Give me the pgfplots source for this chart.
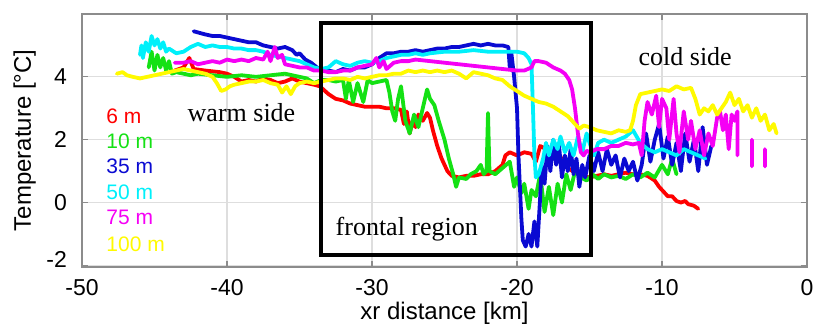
\documentclass[border=0pt]{standalone}
\usepackage{pgfplots}
\pgfplotsset{compat=1.18}
\usepackage{fontspec}
\setmainfont{Liberation Sans}
\newfontfamily\serifann{Liberation Serif}
\definecolor{cRed}{RGB}{255,0,0}
\definecolor{cGreen}{RGB}{20,225,20}
\definecolor{cBlue}{RGB}{10,10,210}
\definecolor{cCyan}{RGB}{0,240,250}
\definecolor{cMag}{RGB}{245,0,245}
\definecolor{cYel}{RGB}{255,250,0}
\definecolor{gridc}{RGB}{222,222,222}
\definecolor{axc}{RGB}{140,140,140}
\begin{document}
\begin{tikzpicture}
\begin{axis}[
  scale only axis, width=362.5pt, height=126.5pt,
  xmin=-50, xmax=0, ymin=-2.05, ymax=6,
  xtick={-50,-40,-30,-20,-10,0}, ytick={-2,0,2,4},
  grid=major, major grid style={gridc, line width=0.6pt},
  axis line style={axc, line width=0.6pt},
  tick style={axc, line width=0.6pt}, tick align=inside,
  major tick length=3pt,
  tick label style={font=\fontsize{11.5}{12}\selectfont},
  label style={font=\fontsize{12}{13}\selectfont},
  /pgf/number format/assume math mode=true,
  xticklabel shift=2.5pt, yticklabel shift=4pt,
  yticklabel={\ifdim\tick pt<-1pt \raisebox{6pt}{\pgfmathprintnumber{\tick}}\else\pgfmathprintnumber{\tick}\fi},
  xlabel={xr distance [km]}, ylabel={Temperature [°C]},
  xlabel style={yshift=3.5pt}, ylabel style={yshift=-1.5pt},
  unbounded coords=jump, clip=true,
  every axis plot/.append style={line width=1.9pt, line join=round, line cap=round},
]
% 6 m
\addplot[cRed] coordinates {(-43.6,4.2) (-43.0,4.3) (-42.6,4.6) (-42.3,4.25) (-41.5,4.2) (-40.5,4.15) (-40,4.1) (-39.5,4.0) (-39,3.85) (-38.5,3.9) (-38,3.85) (-37.5,3.95) (-37,3.9) (-36.5,3.8) (-36,3.85) (-35.5,3.95) (-35,3.85) (-34.5,3.8) (-34,3.75) (-33.6,3.7) (-33,3.45) (-32.5,3.3) (-32,3.25) (-31.5,3.15) (-31,3.1) (-30.5,3.05) (-30,3.05) (-29.5,3.05) (-29,3.0) (-28.5,3.0) (-28,2.95) (-27.8,2.5) (-27.6,2.9) (-27.4,2.2) (-27.2,2.6) (-27,2.4) (-26.8,2.8) (-26.5,2.6) (-26.2,2.85) (-26,2.7) (-25.8,2.3) (-25.5,1.8) (-25.2,1.4) (-25,1.2) (-24.8,1.0) (-24.5,0.85) (-24,0.8) (-23.5,0.85) (-23,0.85) (-22.5,0.9) (-22,0.9) (-21.5,1.0) (-21,1.2) (-20.8,1.5) (-20.5,1.6) (-20,1.5) (-19.5,1.6) (-19,1.55) (-18.7,1.3) (-18.4,1.8) (-18,1.7) (-17.5,1.4) (-17,1.45) (-16.5,1.1) (-16,0.95) (-15.5,0.85) (-15,0.8) (-14.5,0.85) (-14,0.9) (-13.5,0.85) (-13,0.9) (-12.5,0.95) (-12,0.9) (-11.5,0.9) (-11,0.85) (-10.5,0.7) (-10.2,0.5) (-10,0.4) (-9.6,0.2) (-9.3,0.2) (-9,0.05) (-8.7,0.0) (-8.4,0.05) (-8.2,-0.05) (-7.8,-0.1) (-7.5,-0.2)};
% 10 m
\addplot[cGreen] coordinates {(-45.4,4.3) (-45.2,4.8) (-45.0,4.2) (-44.8,4.7) (-44.6,4.3) (-44.4,4.6) (-44.2,4.2) (-44.0,4.5) (-43.8,4.1) (-43.5,4.15) (-43,4.1) (-42.5,4.05) (-42,4.1) (-41,4.05) (-40,4.0) (-39,4.05) (-38,4.0) (-37,4.05) (-36,4.1) (-35,4.0) (-34.5,3.95) (-34,3.8) (-33.5,3.9) (-33,3.9) (-32.5,3.85) (-32,3.9) (-31.8,3.3) (-31.6,3.9) (-31.3,3.2) (-31,3.8) (-30.6,3.2) (-30.3,3.9) (-30,3.8) (-29.5,3.85) (-29,3.9) (-28.8,3.5) (-28.6,2.9) (-28.4,2.6) (-28.2,3.3) (-28.0,3.7) (-27.7,2.6) (-27.4,2.2) (-27.1,2.8) (-26.8,2.4) (-26.5,3.0) (-26.2,3.6) (-26,3.3) (-25.7,3.1) (-25.4,2.6) (-25.0,2.0) (-24.7,1.4) (-24.4,0.9) (-24.2,0.5) (-24.0,0.8) (-23.5,0.75) (-23.2,0.9) (-22.8,1.0) (-22.5,1.2) (-22.3,0.9) (-22.1,1.0) (-22.0,2.85) (-21.9,1.0) (-21.5,0.9) (-21,1.1) (-20.5,1.3) (-20.2,0.5) (-20,0.8) (-19.7,0.3) (-19.5,0.6) (-19.2,-0.2) (-19,0.4) (-18.7,0.2) (-18.4,0.9) (-18.1,-0.3) (-17.8,0.5) (-17.5,-0.4) (-17.2,0.6) (-16.9,0.0) (-16.6,0.9) (-16.3,0.4) (-16,1.0) (-15.6,0.8) (-15.2,0.7) (-14.8,0.9) (-14.4,0.75) (-14,0.9) (-13.5,0.8) (-13,0.85) (-12.5,0.75) (-12,0.9) (-11.5,0.8) (-11,0.95) (-10.5,0.8) (-10,1.2) (-9.6,0.9) (-9.3,1.4) (-9,0.9)};
% 35 m
\addplot[cBlue] coordinates {(-42.3,5.45) (-41.5,5.35) (-41,5.3) (-40.5,5.3) (-40,5.25) (-39.5,5.2) (-39,5.15) (-38.5,5.1) (-38,5.1) (-37.5,5.0) (-37,4.95) (-36.5,4.9) (-36,4.95) (-35.5,4.85) (-35.2,4.7) (-35,4.75) (-34.6,4.55) (-34.2,4.45) (-33.8,4.3) (-33.4,4.2) (-33,4.2) (-32.5,4.15) (-32,4.25) (-31.5,4.2) (-31,4.3) (-30.5,4.3) (-30,4.4) (-29.5,4.6) (-29,4.75) (-28.5,4.75) (-28,4.8) (-27.5,4.8) (-27,4.85) (-26.5,4.8) (-26,4.85) (-25.5,4.9) (-25,4.9) (-24.5,4.95) (-24,4.95) (-23.5,5.0) (-23,5.05) (-22.5,5.0) (-22,5.05) (-21.5,5.0) (-21,5.0) (-20.6,4.95) (-20.5,4.3) (-20.4,4.8) (-20.2,4.0) (-20.0,3.0) (-19.9,1.5) (-19.8,0.5) (-19.7,-0.5) (-19.6,-1.2) (-19.4,-1.4) (-19.2,-1.0) (-19,-1.4) (-18.8,-0.6) (-18.6,-1.4) (-18.4,0.2) (-18.3,1.2) (-18.1,0.6) (-17.9,1.8) (-17.7,1.0) (-17.5,2.0) (-17.3,1.2) (-17.1,1.8) (-16.9,0.8) (-16.7,1.5) (-16.5,1.0) (-16.3,1.7) (-16.1,0.9) (-15.9,1.4) (-15.7,0.5) (-15.5,1.2) (-15.3,0.8) (-15,1.5) (-14.7,1.0) (-14.4,1.6) (-14.1,1.0) (-13.8,1.7) (-13.5,1.2) (-13.2,1.5) (-12.9,0.8) (-12.6,1.4) (-12.3,1.0) (-12,1.3) (-11.7,0.7) (-11.4,1.2) (-11.1,2.2) (-10.8,1.3) (-10.5,2.0) (-10.2,2.5) (-9.9,1.4) (-9.6,2.1) (-9.3,1.2) (-9,1.9) (-8.7,1.0) (-8.4,2.2) (-8.1,1.3) (-7.8,2.0) (-7.5,1.0) (-7.2,2.4) (-6.9,1.2) (-6.6,1.8)};
% 50 m
\addplot[cCyan] coordinates {(-46.0,4.7) (-45.9,5.0) (-45.8,4.6) (-45.6,5.1) (-45.4,4.8) (-45.2,5.3) (-45.0,5.0) (-44.8,5.2) (-44.6,4.9) (-44.4,5.1) (-44.2,4.8) (-44,4.9) (-43.5,4.75) (-43,4.8) (-42.5,4.95) (-42,5.05) (-41.5,4.95) (-41,5.0) (-40.5,4.95) (-40,4.95) (-39.5,4.9) (-39,4.9) (-38.5,4.85) (-38,4.85) (-37.5,4.8) (-37,4.7) (-36.5,4.65) (-36,4.6) (-35.5,4.55) (-35,4.5) (-34.5,4.4) (-34,4.3) (-33.5,4.25) (-33,4.3) (-32.5,4.5) (-32,4.4) (-31.5,4.35) (-31,4.45) (-30.5,4.5) (-30,4.45) (-29.5,4.5) (-29,4.6) (-28.5,4.65) (-28,4.7) (-27.5,4.7) (-27,4.75) (-26.5,4.7) (-26,4.75) (-25,4.8) (-24,4.8) (-23,4.85) (-22,4.8) (-21,4.8) (-20,4.8) (-19.5,4.75) (-19.2,4.6) (-19.0,4.4) (-18.9,3.0) (-18.8,1.5) (-18.7,0.8) (-18.5,0.9) (-18.2,1.4) (-18,1.9) (-17.8,1.5) (-17.5,2.0) (-17.2,1.7) (-17,2.1) (-16.7,1.6) (-16.4,1.9) (-16.1,1.5) (-15.8,2.1) (-15.5,1.6) (-15.2,2.2) (-15,1.9) (-14.7,1.5) (-14.4,1.9) (-14,2.0) (-13.5,1.9) (-13,2.0) (-12.5,2.1) (-12,2.3) (-11.5,1.9) (-11,1.7) (-10.5,1.6) (-10,1.7) (-9.5,1.6) (-9,1.5) (-8.5,1.7) (-8,1.6) (-7.5,1.5) (-7.0,1.4)};
% 75 m
\addplot[cMag] coordinates {(-43.6,4.45) (-43,4.45) (-42.5,4.5) (-42,4.4) (-41.5,4.45) (-41,4.5) (-40.5,4.45) (-40,4.55) (-39.5,4.5) (-39,4.55) (-38.5,4.5) (-38,4.6) (-37.5,4.55) (-37.2,4.8) (-37,4.5) (-36.7,4.95) (-36.5,4.6) (-36.2,4.7) (-36,4.4) (-35.5,4.35) (-35,4.3) (-34.5,4.3) (-34,4.2) (-33.5,4.2) (-33,4.15) (-32.5,4.15) (-32,4.2) (-31.5,4.2) (-31,4.3) (-30.5,4.35) (-30,4.4) (-29.7,4.6) (-29.5,4.3) (-29.2,4.5) (-29,4.25) (-28.5,4.45) (-28,4.5) (-27.5,4.5) (-27,4.55) (-26,4.5) (-25,4.45) (-24,4.4) (-23,4.35) (-22,4.3) (-21,4.25) (-20,4.2) (-19.5,4.2) (-19.0,4.3) (-18.8,4.5) (-18.5,4.5) (-18,4.45) (-17.5,4.3) (-17,4.2) (-16.7,4.1) (-16.4,3.9) (-16.2,3.6) (-16.0,3.0) (-15.8,2.2) (-15.6,1.6) (-15.4,1.5) (-15.2,1.65) (-15,1.6) (-14.5,1.7) (-14,1.7) (-13.5,1.8) (-13,1.8) (-12.5,1.9) (-12,1.85) (-11.6,1.9) (-11.4,1.5) (-11.2,2.6) (-11,3.2) (-10.7,2.8) (-10.4,3.4) (-10.2,2.4) (-10,3.3) (-9.7,3.0) (-9.5,2.0) (-9.2,3.3) (-9,2.2) (-8.8,1.6) (-8.5,2.9) (-8.2,2.0) (-8,2.6) (-7.7,1.7) (-7.4,2.3) (-7.1,1.5) (-6.8,2.2) (-6.5,1.8) (-6.2,2.7) (-6,2.9) (-5.8,2.3) (-5.6,2.8) (-5.4,1.7) (-5.2,2.8) (-5.0,2.6) (-4.8,2.9) (-4.8,1.5) (-4.3,nan) (-3.8,2.0) (-3.8,1.15) (-3.3,nan) (-2.9,1.7) (-2.9,1.15)};
% 100 m
\addplot[cYel] coordinates {(-47.6,4.1) (-47.2,4.15) (-46.9,4.05) (-46.5,4.0) (-46,3.95) (-45.5,4.0) (-45,4.05) (-44.5,4.1) (-44,4.15) (-43.5,4.2) (-43,4.25) (-42.5,4.2) (-42,4.15) (-41.5,4.1) (-41,4.0) (-40.7,3.8) (-40.4,3.55) (-40.1,3.6) (-39.8,3.7) (-39.5,3.75) (-39,3.8) (-38.5,3.85) (-38,3.85) (-37.5,3.9) (-37,3.8) (-36.5,3.75) (-36.2,3.5) (-35.9,3.7) (-35.6,3.45) (-35.3,3.7) (-35,3.8) (-34.5,3.85) (-34,3.8) (-33.5,3.85) (-33,3.9) (-32.5,3.95) (-32,3.95) (-31.5,3.9) (-31,4.0) (-30.5,3.95) (-30,4.0) (-29.5,4.05) (-29,4.05) (-28.5,4.1) (-28,4.1) (-27.5,4.2) (-27,4.15) (-26.5,4.2) (-26,4.15) (-25.5,4.2) (-25,4.15) (-24.5,4.2) (-24,4.1) (-23.5,3.95) (-23,4.15) (-22.5,4.1) (-22,4.05) (-21.5,3.95) (-21,3.9) (-20.5,3.7) (-20,3.55) (-19.5,3.4) (-19,3.3) (-18.5,3.2) (-18,3.15) (-17.5,3.05) (-17,2.9) (-16.5,2.75) (-16.2,2.6) (-16,2.5) (-15.7,2.35) (-15.4,2.45) (-15,2.4) (-14.5,2.3) (-14,2.25) (-13.5,2.2) (-13,2.3) (-12.5,2.25) (-12.2,2.3) (-12,2.6) (-11.8,3.1) (-11.5,3.45) (-11,3.5) (-10.5,3.55) (-10,3.6) (-9.5,3.55) (-9,3.7) (-8.5,3.6) (-8,3.65) (-7.7,3.3) (-7.4,2.8) (-7.1,3.0) (-6.8,2.9) (-6.5,3.1) (-6.2,2.8) (-5.9,3.0) (-5.6,3.2) (-5.3,3.5) (-5,3.1) (-4.7,3.3) (-4.4,2.9) (-4.1,3.1) (-3.8,2.7) (-3.5,3.0) (-3.2,2.6) (-2.9,2.8) (-2.6,2.3) (-2.3,2.5) (-2.1,2.2)};
% frontal region box
\addplot[black, line width=2pt, line join=miter, line cap=rect] coordinates {(-33.5,-1.68) (-14.9,-1.68) (-14.9,5.71) (-33.5,5.71) (-33.5,-1.68)};
\node[font=\serifann\fontsize{13}{14}\selectfont] at (axis cs:-39.0,2.86) {warm side};
\node[font=\serifann\fontsize{13}{14}\selectfont] at (axis cs:-8.4,4.63) {cold side};
\node[font=\serifann\fontsize{13}{14}\selectfont] at (axis cs:-27.6,-0.86) {frontal region};
\node[anchor=west, text=cRed, font=\fontsize{10.5}{11}\selectfont] at (axis cs:-48.8,2.73) {6 m};
\node[anchor=west, text=cGreen, font=\fontsize{10.5}{11}\selectfont] at (axis cs:-48.8,1.94) {10 m};
\node[anchor=west, text=cBlue, font=\fontsize{10.5}{11}\selectfont] at (axis cs:-48.8,1.14) {35 m};
\node[anchor=west, text=cCyan, font=\fontsize{10.5}{11}\selectfont] at (axis cs:-48.8,0.32) {50 m};
\node[anchor=west, text=cMag, font=\fontsize{10.5}{11}\selectfont] at (axis cs:-48.8,-0.48) {75 m};
\node[anchor=west, text=cYel, font=\fontsize{10.5}{11}\selectfont] at (axis cs:-48.8,-1.33) {100 m};
\end{axis}
\pgfresetboundingbox
\path[use as bounding box] ([shift={(-41pt,-30pt)}]current axis.south west) rectangle ([shift={(3.5pt,7pt)}]current axis.north east);
\end{tikzpicture}
\end{document}
